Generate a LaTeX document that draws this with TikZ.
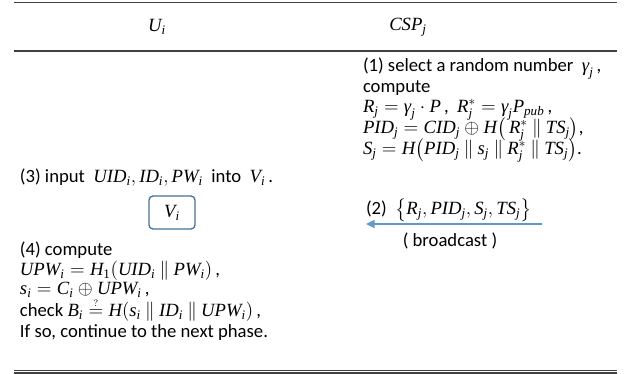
\documentclass[tikz,border=0pt]{standalone}
\usepackage{amsmath}
\usepackage{fontspec}
\setmainfont{Carlito}
\newfontfamily\tms{Liberation Serif}
\usetikzlibrary{arrows.meta}
\definecolor{rulegray}{HTML}{404040}
\definecolor{msgblue}{HTML}{5B9BD5}
\definecolor{boxblue}{HTML}{41719C}
% math variables set in Times-style italic
\newcommand\mv[1]{\text{\tms\itshape #1}}
\newcommand\mr[1]{\text{\tms #1}}
\newcommand\subj{_{\mv{j}}}
\newcommand\subi{_{\mv{i}}}
\newcommand\cat{\mathbin{\|}}
\begin{document}
\begin{tikzpicture}[x=0.75pt,y=-0.75pt,
  every node/.style={inner sep=0pt,outer sep=0pt},
  txt/.style={anchor=base west,font=\fontsize{14}{16}\selectfont},
  head/.style={font=\fontsize{14}{16}\selectfont},
  rule/.style={draw=rulegray,line width=1.1pt},
  devbox/.style={draw=boxblue,line width=1pt,rounded corners=3pt,
    minimum width=34.5pt,minimum height=24.75pt,font=\fontsize{14}{16}\selectfont},
  msgarrow/.style={draw=msgblue,line width=1.4pt,-{Triangle[length=6.5pt,width=6pt]}}]
\useasboundingbox (0,0) rectangle (633,374);

% table rules
\draw[rule] (14,2.5) -- (617,2.5);
\draw[rule] (14,51) -- (617,51);
\draw[rule,line width=0.8pt] (14,370.5) -- (617,370.5);
\draw[rule,line width=0.8pt] (14,373) -- (617,373);

% column heads
\node[head] (hU) at (157,27) {$\mv{U}\subi$};
\node[head] (hC) at (408,27) {$\mv{CSP}\subj$};

% server side
\node[txt] (c1) at (363,72) {(1) select a random number \ $\mv{γ}\subj$\,,};
\node[txt] (c2) at (363,93) {compute};
\node[txt] (c3) at (363,113) {$\mv{R}\subj=\mv{γ}\subj\cdot\mv{P}$\,,\ \ $\mv{R}^{*}_{\mv{j}}=\mv{γ}\subj\mv{P}_{\mv{pub}}$\,,};
\node[txt] (c4) at (363,134) {$\mv{PID}\subj=\mv{CID}\subj\oplus\mv{H}\bigl(\,\mv{R}^{*}_{\mv{j}}\cat\mv{TS}\subj\bigr)$,};
\node[txt] (c5) at (363,155) {$\mv{S}\subj=\mv{H}\bigl(\mv{PID}\subj\cat\mv{s}\subj\cat\mv{R}^{*}_{\mv{j}}\cat\mv{TS}\subj\bigr)$.};
\node[txt] (c6) at (366,215) {(2) \ $\bigl\{\mv{R}\subj,\mv{PID}\subj,\mv{S}\subj,\mv{TS}\subj\bigr\}$};
\node[txt,anchor=base] (bc) at (450,247) {( broadcast )};

% broadcast message
\coordinate (mS) at (542,224);
\coordinate (mE) at (366,224);
\draw[msgarrow] (mS) -- (mE);

% user side
\node[txt] (u3) at (20,183) {(3) input \ $\mv{UID}\subi,\mv{ID}\subi,\mv{PW}\subi$ \ into \ $\mv{V}\subi$\,.};
\node[devbox] (vb) at (172,212.5) {$\mv{V}\subi$};
\node[txt] (u4) at (20,256) {(4) compute};
\node[txt] (u5) at (20,276) {$\mv{UPW}\subi=\mv{H}_{\mr{1}}(\mv{UID}\subi\cat\mv{PW}\subi)$\,,};
\node[txt] (u6) at (20,295) {$\mv{s}\subi=\mv{C}\subi\oplus\mv{UPW}\subi$\,,};
\node[txt] (u7) at (20,317) {check $\mv{B}\subi\stackrel{\scriptscriptstyle ?}{=}\mv{H}(\mv{s}\subi\cat\mv{ID}\subi\cat\mv{UPW}\subi)$\,,};
\node[txt] (u8) at (20,338) {If so, continue to the next phase.};
\end{tikzpicture}
\end{document}
